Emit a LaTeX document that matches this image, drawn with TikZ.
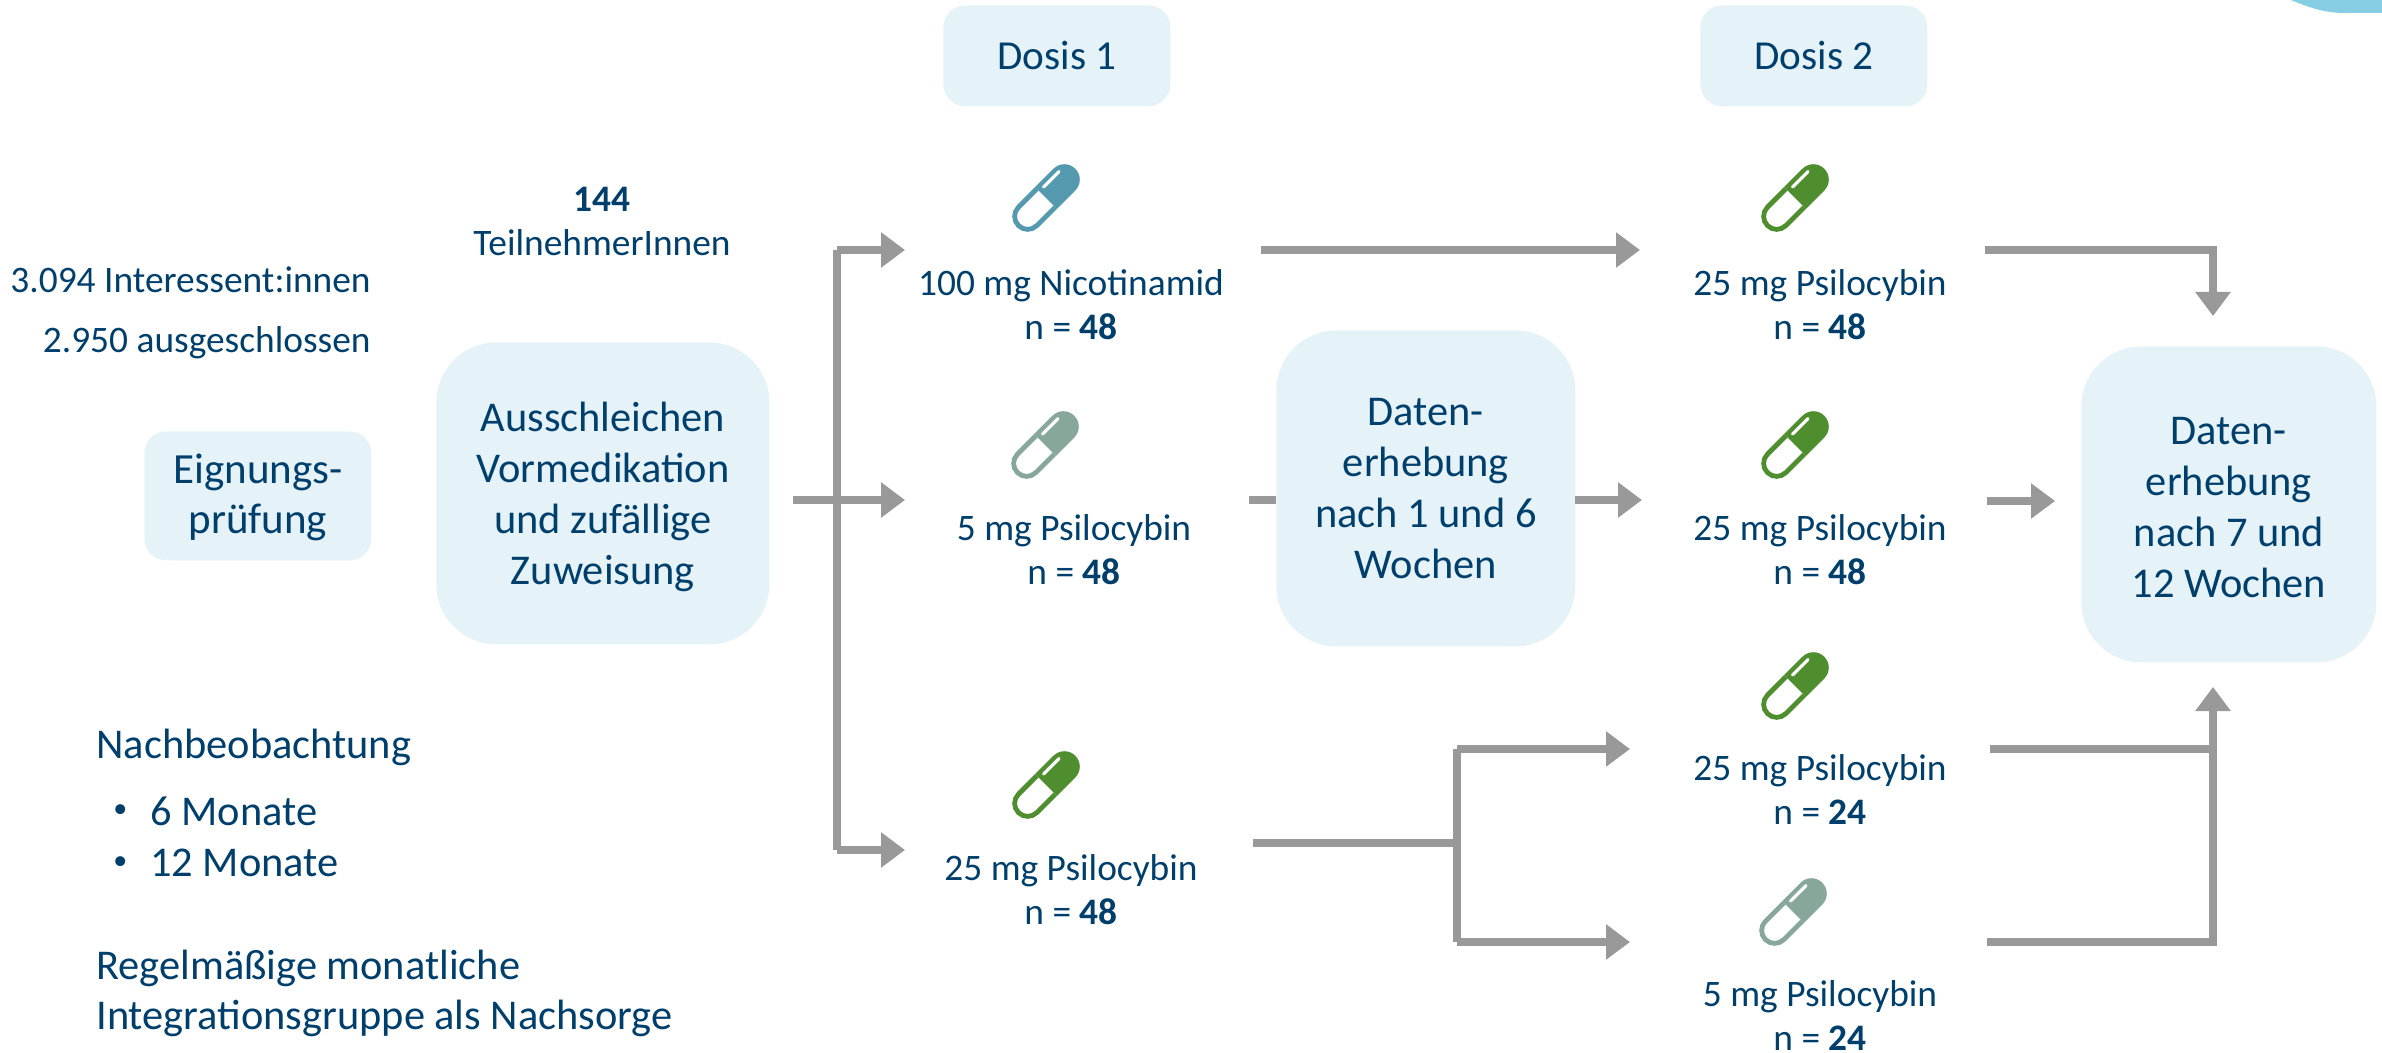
\documentclass[tikz,border=0pt]{standalone}
\usepackage{fontspec}
\setmainfont{Carlito}
\usetikzlibrary{arrows.meta}
\definecolor{txt}{HTML}{003F6C}
\definecolor{boxfill}{HTML}{E5F3F8}
\definecolor{arrowgray}{HTML}{999999}
\definecolor{corner}{HTML}{87CEE5}
\definecolor{pillblue}{HTML}{5499AE}
\definecolor{pillgreen}{HTML}{4F8E2F}
\definecolor{pillgrey}{HTML}{86A79A}
\tikzset{
  box/.style={fill=boxfill,rounded corners=#1,inner sep=0pt,anchor=north west,text=txt,align=center},
  boxtext/.style={text=txt,inner sep=0pt,align=center,font=\fontsize{21.2}{25.5}\selectfont},
  lab/.style={text=txt,inner sep=0pt,align=center,font=\fontsize{18.7}{22}\selectfont},
  plain/.style={text=txt,inner sep=0pt,font=\fontsize{#1}{25}\selectfont},
  plain/.default=18.7,
  conn/.style={draw=arrowgray,line width=4pt},
  arr/.style={conn,-{Triangle[length=12pt,width=17pt]}},
  pill/.pic={
    \begin{scope}[rotate=45]
      \fill[white] (-26,-13) rectangle (0,13);
      \draw[line width=2.4pt,draw=#1] (0,-13) -- (-26,-13) arc[start angle=-90,delta angle=-180,radius=13] -- (0,13);
      \fill[#1] (0,-15.4) -- (26,-15.4) arc[start angle=-90,delta angle=180,radius=15.4] -- (0,15.4) -- cycle;
      \draw[white,line width=1.6pt,line cap=round] (6,-9.5) -- (28,-9.5);
    \end{scope}
  },
}
\begin{document}
\begin{tikzpicture}[x=0.5pt,y=-0.5pt]
\useasboundingbox (0,0) rectangle (2382,1053);
\fill[corner] (2291,0) .. controls (2310,8) and (2325,13) .. (2345,13) -- (2382,13) -- (2382,0) -- cycle;

% boxes
\node[box=11pt,minimum width=113.5pt,minimum height=50.5pt,font=\fontsize{20.6}{25}\selectfont] (d1) at (943,5) {Dosis 1};
\node[box=11pt,minimum width=113.5pt,minimum height=50.5pt,font=\fontsize{20.6}{25}\selectfont] (d2) at (1700,5) {Dosis 2};
\node[box=11pt,minimum width=113.5pt,minimum height=64.5pt] (eig) at (144,431) {};
\node[boxtext,font=\fontsize{21.5}{25}\selectfont,yshift=-0.8pt] (eigt) at (eig) {Eignungs-\\prüfung};
\node[box=30pt,minimum width=166.5pt,minimum height=151pt] (aus) at (436,342) {};
\node[boxtext,yshift=-1.8pt] (aust) at (aus) {Ausschleichen\\Vormedikation\\und zufällige\\Zuweisung};
\node[box=30pt,minimum width=149.5pt,minimum height=158pt] (dat1) at (1276,330) {};
\node[boxtext] (dat1t) at (dat1) {Daten-\\erhebung\\nach 1 und 6\\Wochen};
\node[box=30pt,minimum width=147.5pt,minimum height=158pt] (dat2) at (2081,346) {};
\node[boxtext,yshift=-1.6pt] (dat2t) at (dat2) {Daten-\\erhebung\\nach 7 und\\12 Wochen};

% pills
\pic at (1046,198) {pill=pillblue};
\pic at (1045,445) {pill=pillgrey};
\pic at (1046,785) {pill=pillgreen};
\pic at (1795,198) {pill=pillgreen};
\pic at (1795,445) {pill=pillgreen};
\pic at (1795,686) {pill=pillgreen};
\pic at (1793,912) {pill=pillgrey};

% dose labels
\node[lab] (l1) at (1071,305) {100 mg Nicotinamid\\n = \textbf{48}};
\node[lab] (l2) at (1074,550) {5 mg Psilocybin\\n = \textbf{48}};
\node[lab] (l3) at (1071,890) {25 mg Psilocybin\\n = \textbf{48}};
\node[lab] (r1) at (1820,305) {25 mg Psilocybin\\n = \textbf{48}};
\node[lab] (r2) at (1820,550) {25 mg Psilocybin\\n = \textbf{48}};
\node[lab] (r3) at (1820,790) {25 mg Psilocybin\\n = \textbf{24}};
\node[lab] (r4) at (1820,1016) {5 mg Psilocybin\\n = \textbf{24}};

% free texts
\node[lab] (tn) at (602,221) {\textbf{144}\\TeilnehmerInnen};
\node[plain,anchor=east] (int) at (371,280) {3.094 Interessent:innen};
\node[plain,anchor=east] (aus2) at (371,343) {2.950 ausgeschlossen};
\node[plain=21.2,anchor=west] (nb) at (96,747) {Nachbeobachtung};
\node[plain=14,anchor=west] (b1) at (113,811) {•};
\node[plain=21.2,anchor=west] (m6) at (150,811) {6 Monate};
\node[plain=14,anchor=west] (b2) at (113,863) {•};
\node[plain=21.2,anchor=west] (m12) at (150,863) {12 Monate};
\node[plain=21.2,anchor=west] (reg1) at (96,968) {Regelmäßige monatliche};
\node[plain=21.2,anchor=west] (reg2) at (96,1018) {Integrationsgruppe als Nachsorge};

% connector points
\coordinate (a0) at (793,500);
\coordinate (aj) at (837,500);
\coordinate (at) at (837,250);
\coordinate (ab) at (837,850);
\coordinate (ta) at (905,250);
\coordinate (ma) at (905,500);
\coordinate (ba) at (905,850);
\coordinate (s1) at (1261,250);
\coordinate (e1) at (1640,250);
\coordinate (s2) at (1249,500);
\coordinate (e2a) at (1575,500);
\coordinate (e2) at (1642,500);
\coordinate (s3) at (1985,250);
\coordinate (c3) at (2213,250);
\coordinate (e3) at (2213,316);
\coordinate (s4) at (1987,501);
\coordinate (e4) at (2055,501);
\coordinate (s5) at (1253,843);
\coordinate (c5) at (1457,843);
\coordinate (c5t) at (1457,749);
\coordinate (c5b) at (1457,942);
\coordinate (e5t) at (1630,749);
\coordinate (e5b) at (1630,942);
\coordinate (s6) at (1990,749);
\coordinate (c6) at (2213,749);
\coordinate (s7) at (1987,942);
\coordinate (c7) at (2213,942);
\coordinate (e7) at (2213,687);

\draw[conn] (a0) -- (aj);
\draw[conn,line cap=square] (at) -- (ab);
\draw[arr] (at) -- (ta);
\draw[arr] (aj) -- (ma);
\draw[arr] (ab) -- (ba);
\draw[arr] (s1) -- (e1);
\draw[conn] (s2) -- (dat1.west |- s2);
\draw[arr] (e2a) -- (e2);
\draw[arr] (s3) -- (c3) -- (e3);
\draw[arr] (s4) -- (e4);
\draw[conn] (s5) -- (c5);
\draw[conn,line cap=square] (c5t) -- (c5b);
\draw[arr] (c5t) -- (e5t);
\draw[arr] (c5b) -- (e5b);
\draw[conn] (s6) -- (c6);
\draw[arr] (s7) -- (c7) -- (e7);
\end{tikzpicture}
\end{document}
